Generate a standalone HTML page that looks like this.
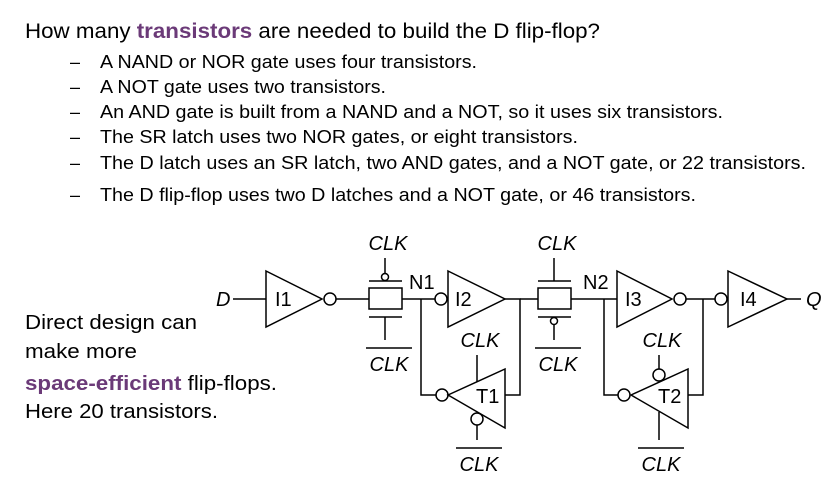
<!DOCTYPE html>
<html><head><meta charset="utf-8"><style>
html,body{margin:0;padding:0;background:#fff;}
svg{display:block;font-family:"Liberation Sans",Arial,sans-serif;}
</style></head><body>
<svg width="831" height="479" viewBox="0 0 831 479" xmlns="http://www.w3.org/2000/svg">
<g fill="#000">
<text x="25" y="38" font-size="21" textLength="575" lengthAdjust="spacingAndGlyphs">How many <tspan fill="#6b3a78" font-weight="bold">transistors</tspan> are needed to build the D flip-flop?</text>
<g font-size="18">
<text x="70" y="68">–</text><text x="100" y="68" textLength="377" lengthAdjust="spacingAndGlyphs">A NAND or NOR gate uses four transistors.</text>
<text x="70" y="93">–</text><text x="100" y="93" textLength="286" lengthAdjust="spacingAndGlyphs">A NOT gate uses two transistors.</text>
<text x="70" y="118">–</text><text x="100" y="118" textLength="623" lengthAdjust="spacingAndGlyphs">An AND gate is built from a NAND and a NOT, so it uses six transistors.</text>
<text x="70" y="143">–</text><text x="100" y="143" textLength="478" lengthAdjust="spacingAndGlyphs">The SR latch uses two NOR gates, or eight transistors.</text>
<text x="70" y="169">–</text><text x="100" y="169" textLength="706" lengthAdjust="spacingAndGlyphs">The D latch uses an SR latch, two AND gates, and a NOT gate, or 22 transistors.</text>
<text x="70" y="201">–</text><text x="100" y="201" textLength="596" lengthAdjust="spacingAndGlyphs">The D flip-flop uses two D latches and a NOT gate, or 46 transistors.</text>
</g>
<g font-size="20">
<text x="25" y="329" textLength="172" lengthAdjust="spacingAndGlyphs">Direct design can</text>
<text x="25" y="358" textLength="112" lengthAdjust="spacingAndGlyphs">make more</text>
<text x="25" y="390" textLength="252" lengthAdjust="spacingAndGlyphs"><tspan fill="#6b3a78" font-weight="bold">space-efficient</tspan> flip-flops.</text>
<text x="25" y="418" textLength="193" lengthAdjust="spacingAndGlyphs">Here 20 transistors.</text>
</g>
</g>
<g stroke="#000" stroke-width="1.5" fill="none">
<line x1="233" y1="299" x2="266" y2="299"/>
<polygon points="266,271 322,299 266,327" fill="#fff"/>
<circle cx="330" cy="299" r="6" fill="#fff"/>
<line x1="336" y1="299" x2="369" y2="299"/>
<rect x="369" y="288" width="33" height="21" fill="#fff"/>
<line x1="369" y1="281" x2="402" y2="281"/>
<line x1="369" y1="317" x2="402" y2="317"/>
<circle cx="385" cy="277" r="3.5" fill="#fff"/>
<line x1="385" y1="258" x2="385" y2="273"/>
<line x1="385" y1="317" x2="385" y2="340"/>
<line x1="402" y1="299" x2="435" y2="299"/>
<circle cx="441" cy="299" r="6" fill="#fff"/>
<polygon points="448,271 505,299 448,327" fill="#fff"/>
<polyline points="505,299 520,299 520,395 505,395"/>
<polyline points="421,299 421,395 436,395"/>
<circle cx="442" cy="395" r="6" fill="#fff"/>
<polygon points="448,395 505,369 505,428" fill="#fff"/>
<line x1="477" y1="355" x2="477" y2="382"/>
<circle cx="477" cy="419" r="6" fill="#fff"/>
<line x1="477" y1="425" x2="477" y2="440"/>
<line x1="520" y1="299" x2="538" y2="299"/>
<rect x="538" y="288" width="33" height="21" fill="#fff"/>
<line x1="538" y1="281" x2="571" y2="281"/>
<line x1="538" y1="317" x2="571" y2="317"/>
<line x1="554" y1="258" x2="554" y2="281"/>
<circle cx="554" cy="321" r="3.5" fill="#fff"/>
<line x1="554" y1="325" x2="554" y2="340"/>
<line x1="571" y1="299" x2="617" y2="299"/>
<polygon points="617,271 672,299 617,327" fill="#fff"/>
<circle cx="680" cy="299" r="6" fill="#fff"/>
<line x1="686" y1="299" x2="715" y2="299"/>
<circle cx="721" cy="299" r="6" fill="#fff"/>
<polygon points="728,271 787,299 728,327" fill="#fff"/>
<line x1="787" y1="299" x2="801" y2="299"/>
<polyline points="604,299 604,395 618,395"/>
<circle cx="624" cy="395" r="6" fill="#fff"/>
<polygon points="631,395 688,369 688,428" fill="#fff"/>
<polyline points="688,395 703,395 703,299"/>
<line x1="659" y1="355" x2="659" y2="369"/>
<circle cx="659" cy="375" r="6" fill="#fff"/>
<line x1="659" y1="412" x2="659" y2="440"/>
<line x1="366" y1="348" x2="412" y2="348"/>
<line x1="535" y1="348" x2="581" y2="348"/>
<line x1="456" y1="448" x2="502" y2="448"/>
<line x1="638" y1="448" x2="684" y2="448"/>
</g>
<g font-size="20" fill="#000">
<text x="216" y="306" font-style="italic">D</text>
<text x="806" y="306" font-style="italic">Q</text>
<text x="275" y="306">I1</text>
<text x="455" y="306">I2</text>
<text x="625" y="306">I3</text>
<text x="740" y="306">I4</text>
<text x="476" y="403">T1</text>
<text x="658" y="403">T2</text>
<text x="409" y="289">N1</text>
<text x="583" y="289">N2</text>
<g font-style="italic" text-anchor="middle">
<text x="388" y="250">CLK</text>
<text x="557" y="250">CLK</text>
<text x="389" y="371">CLK</text>
<text x="558" y="371">CLK</text>
<text x="480" y="347">CLK</text>
<text x="662" y="347">CLK</text>
<text x="479" y="471">CLK</text>
<text x="661" y="471">CLK</text>
</g>
</g>
</svg>
</body></html>
